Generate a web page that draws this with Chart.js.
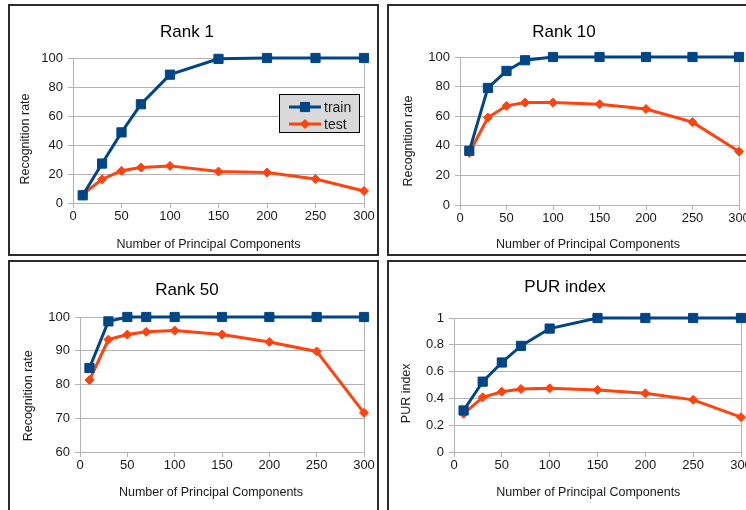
<!DOCTYPE html>
<html>
<head>
<meta charset="utf-8">
<script src="https://cdn.jsdelivr.net/npm/chart.js@4/dist/chart.umd.min.js"></script>
<style>
  body { margin: 0; width: 746px; height: 510px; overflow: hidden; background: #fff; }
  .panel { position: absolute; border: 2px solid #2b2b2b; background: #fff; }
  .panel canvas { display: block; }
</style>
</head>
<body>
<div class="panel" style="left:8px;top:4px;"><canvas id="rank1" width="367" height="248"></canvas></div>
<div class="panel" style="left:387px;top:4px;"><canvas id="rank10" width="367" height="248"></canvas></div>
<div class="panel" style="left:8px;top:260px;"><canvas id="rank50" width="367" height="260"></canvas></div>
<div class="panel" style="left:387px;top:260px;"><canvas id="pur" width="367" height="260"></canvas></div>
<script>
// Number of principal components kept
const components = [10, 30, 50, 70, 100, 150, 200, 250, 300];

// Recognition rate (%) at rank 1
const rank1Train = [5.3, 27.2, 48.7, 68.1, 88.5, 99.4, 100, 100, 100];
const rank1Test = [6, 16.4, 22.2, 24.5, 25.6, 21.7, 21.0, 16.6, 8.3];

// Recognition rate (%) at rank 10
const rank10Train = [36.6, 79.1, 90.6, 97.8, 100, 100, 100, 100, 100];
const rank10Test = [35.3, 59.1, 67, 69.2, 69.2, 68.1, 64.9, 56, 36.2];

// Recognition rate (%) at rank 50
const rank50Train = [84.9, 98.7, 100, 100, 100, 100, 100, 100, 100];
const rank50Test = [81.3, 93.3, 94.8, 95.6, 96.0, 94.8, 92.6, 89.8, 71.6];

// PUR index
const purTrain = [0.31, 0.525, 0.668, 0.792, 0.921, 1, 1, 1, 1];
const purTest = [0.285, 0.408, 0.45, 0.47, 0.475, 0.463, 0.438, 0.389, 0.26];

const seriesNames = ["train", "test"];
const xTitle = "Number of Principal Components";

const TRAIN_COLOR = "#004586";
const TEST_COLOR = "#ff420e";
const GRID_COLOR = "#b3b3b3";
const FONT = "'Liberation Sans', Arial, sans-serif";

// axis captions drawn by hand so they can sit where we want them
const axisCaptions = {
  id: "axisCaptions",
  afterDraw(chart, args, opts) {
    const ctx = chart.ctx;
    ctx.save();
    ctx.fillStyle = "#1a1a1a";
    ctx.font = "12.5px " + FONT;
    ctx.textAlign = "center";
    ctx.textBaseline = "middle";
    ctx.fillText(opts.xText, opts.xPos[0], opts.xPos[1]);
    ctx.translate(opts.yPos[0], opts.yPos[1]);
    ctx.rotate(-Math.PI / 2);
    ctx.fillText(opts.yText, 0, 0);
    ctx.restore();
  },
};

// boxed legend inside the plot area
const boxLegend = {
  id: "boxLegend",
  afterDraw(chart, args, opts) {
    if (!opts.show) return;
    const ctx = chart.ctx;
    const [left, top, right, bottom] = opts.box;
    ctx.save();
    ctx.fillStyle = "#d9d9d9";
    ctx.fillRect(left, top, right - left, bottom - top);
    ctx.strokeStyle = "#000";
    ctx.lineWidth = 1;
    ctx.strokeRect(left + 0.5, top + 0.5, right - left - 1, bottom - top - 1);
    chart.data.datasets.forEach((ds, i) => {
      const y = top + 13 + i * 17;
      const x0 = left + 10;
      const x1 = left + 42;
      ctx.strokeStyle = ds.borderColor;
      ctx.lineWidth = 3;
      ctx.beginPath();
      ctx.moveTo(x0, y);
      ctx.lineTo(x1, y);
      ctx.stroke();
      ctx.fillStyle = ds.borderColor;
      ctx.strokeStyle = ds.borderColor;
      ctx.lineWidth = 1;
      Chart.helpers.drawPoint(ctx, {
        pointStyle: ds.pointStyle,
        radius: ds.pointRadius,
        borderWidth: 1,
        rotation: 0,
      }, (x0 + x1) / 2, y);
      ctx.fillStyle = "#1a1a1a";
      ctx.font = "14px " + FONT;
      ctx.textAlign = "left";
      ctx.textBaseline = "middle";
      ctx.fillText(ds.label, x1 + 3, y + 1);
    });
    ctx.restore();
  },
};

function makeSeries(label, values, color, style, radius) {
  return {
    label,
    data: components.map((c, i) => ({ x: c, y: values[i] })),
    borderColor: color,
    backgroundColor: color,
    borderWidth: 3,
    pointStyle: style,
    pointRadius: radius,
    pointHoverRadius: radius,
    pointBorderWidth: 1,
    pointBorderColor: color,
    tension: 0,
    clip: false,
  };
}

function buildChart(cfg) {
  const canvas = document.getElementById(cfg.id);
  const W = canvas.width;
  const H = canvas.height;
  const area = cfg.area;
  const titleLine = 17 * 1.2;
  const titleTop = cfg.titleY - titleLine / 2;

  new Chart(canvas, {
    type: "line",
    data: {
      datasets: [
        makeSeries(seriesNames[0], cfg.train, TRAIN_COLOR, "rect", 6.5),
        makeSeries(seriesNames[1], cfg.test, TEST_COLOR, "rectRot", 4.5),
      ],
    },
    options: {
      responsive: false,
      animation: false,
      events: [],
      layout: { padding: { left: 0, top: 0, right: W - area.right, bottom: 0 } },
      plugins: {
        legend: { display: false },
        tooltip: { enabled: false },
        title: {
          display: true,
          text: cfg.title,
          color: "#000",
          font: { family: FONT, size: 17, weight: "normal", lineHeight: 1.2 },
          padding: { top: titleTop, bottom: area.top - titleTop - titleLine },
        },
        axisCaptions: { xText: xTitle, yText: cfg.yTitle, xPos: cfg.xTitlePos, yPos: cfg.yTitlePos },
        boxLegend: { show: !!cfg.legendBox, box: cfg.legendBox || [0, 0, 0, 0] },
      },
      scales: {
        x: {
          type: "linear",
          min: 0,
          max: 300,
          afterFit: (scale) => { scale.height = H - area.bottom; },
          ticks: {
            stepSize: 50,
            padding: 1,
            color: "#1a1a1a",
            font: { family: FONT, size: 13 },
            maxRotation: 0,
          },
          grid: {
            color: (ctx) => (ctx.tick && ctx.tick.value === 300 ? GRID_COLOR : "transparent"),
            tickColor: GRID_COLOR,
            tickLength: 5,
          },
          border: { color: GRID_COLOR },
        },
        y: {
          min: cfg.yMin,
          max: cfg.yMax,
          afterFit: (scale) => { scale.width = area.left; },
          ticks: {
            stepSize: cfg.yStep,
            padding: 5,
            color: "#1a1a1a",
            font: { family: FONT, size: 13 },
            callback: (v) => String(Math.round(v * 10) / 10),
          },
          grid: { color: GRID_COLOR, tickColor: GRID_COLOR, tickLength: 5 },
          border: { color: GRID_COLOR },
        },
      },
    },
    plugins: [axisCaptions, boxLegend],
  });
}

Chart.defaults.font.family = FONT;

buildChart({
  id: "rank1", title: "Rank 1", yTitle: "Recognition rate",
  train: rank1Train, test: rank1Test, yMin: 0, yMax: 100, yStep: 20,
  area: { left: 63, top: 52, right: 354, bottom: 197 },
  titleY: 26.5, xTitlePos: [198.5, 239], yTitlePos: [16, 133],
  legendBox: [269, 88, 350, 127],
});
buildChart({
  id: "rank10", title: "Rank 10", yTitle: "Recognition rate",
  train: rank10Train, test: rank10Test, yMin: 0, yMax: 100, yStep: 20,
  area: { left: 71, top: 51, right: 350, bottom: 199 },
  titleY: 26.3, xTitlePos: [199, 239], yTitlePos: [20, 135],
});
buildChart({
  id: "rank50", title: "Rank 50", yTitle: "Recognition rate",
  train: rank50Train, test: rank50Test, yMin: 60, yMax: 100, yStep: 10,
  area: { left: 70, top: 55, right: 354, bottom: 190 },
  titleY: 28, xTitlePos: [201, 231], yTitlePos: [19, 133.8],
});
buildChart({
  id: "pur", title: "PUR index", yTitle: "PUR index",
  train: purTrain, test: purTest, yMin: 0, yMax: 1, yStep: 0.2,
  area: { left: 65, top: 56, right: 352, bottom: 190 },
  titleY: 25.3, xTitlePos: [199.3, 231], yTitlePos: [17.7, 131.3],
});
</script>
</body>
</html>
